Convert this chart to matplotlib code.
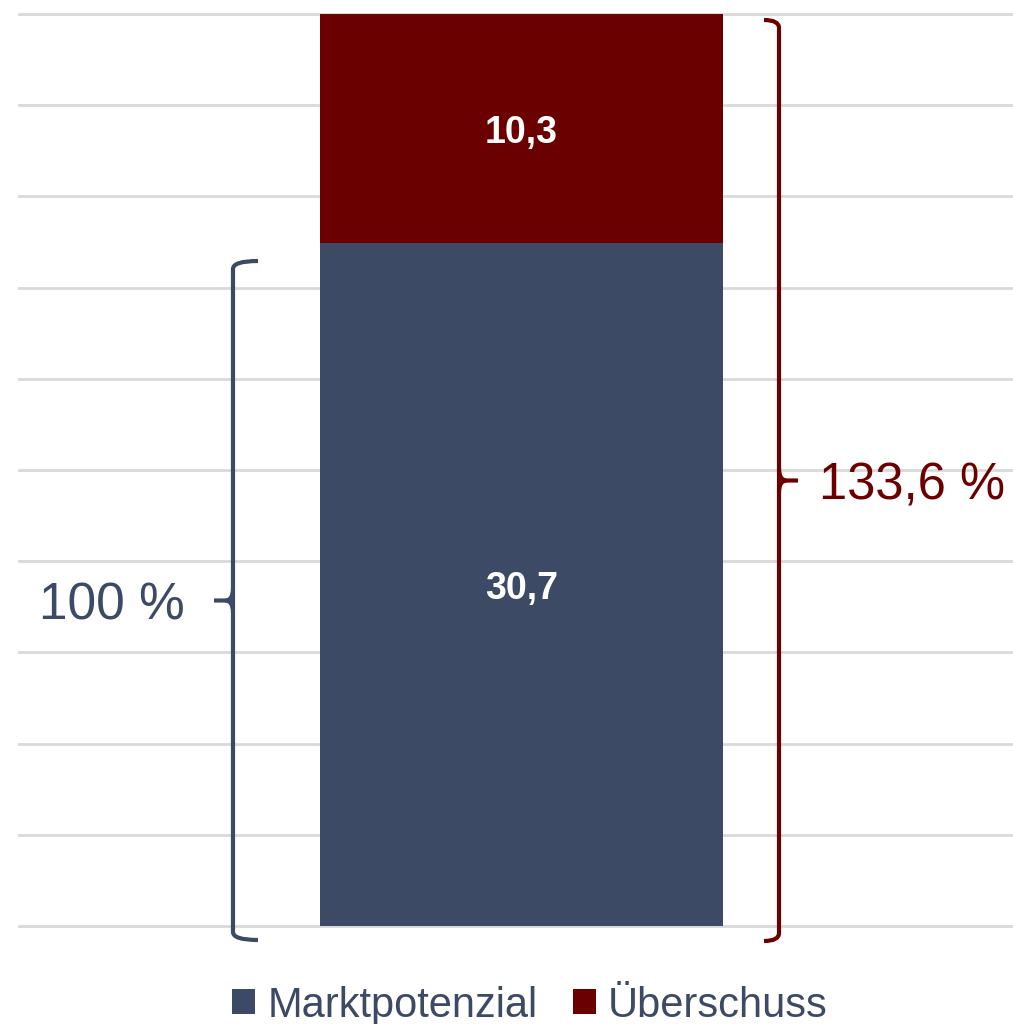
import numpy as np
import matplotlib
matplotlib.use("Agg")
import matplotlib.pyplot as plt
from matplotlib.patches import Patch, PathPatch
from matplotlib.path import Path

plt.rcParams['font.family'] = ['Liberation Sans', 'DejaVu Sans']

# data
series = ["Marktpotenzial", "Überschuss"]
values = [30.7, 10.3]
value_labels = ["30,7", "10,3"]
colors = ["#3D4A66", "#6B0000"]
brace_labels = ["100 %", "133,6 %"]

fig = plt.figure(figsize=(10.13, 10.24), dpi=100)
ax = fig.add_axes([19 / 1013, 98 / 1024, 994 / 1013, 912 / 1024])

bottom = 0
for name, v, lab, c in zip(series, values, value_labels, colors):
    ax.bar(0, v, width=0.8, bottom=bottom, color=c, label=name, zorder=3)
    ax.text(0, bottom + v / 2, lab, ha='center', va='center_baseline', color='white',
            fontsize=27, fontweight='bold', zorder=4)
    bottom += v
total = bottom

ax.set_xlim(-0.9975, 0.9757)
ax.set_ylim(0, total)
ax.set_yticks(np.linspace(0, total, 11))
ax.yaxis.grid(True, color='#D9D9D9', linewidth=2)
for gl in ax.get_ygridlines():
    gl.set_clip_on(False)
ax.set_axisbelow(True)
ax.tick_params(left=False, bottom=False, labelleft=False, labelbottom=False)
for s in ax.spines.values():
    s.set_visible(False)

# px -> data helpers for brace geometry
xu = 1 / 503.75   # data units per pixel, x
yu = total / 912  # data units per pixel, y


def brace(x, y0, y1, direction, color, arm_px):
    # direction: -1 tip points left, +1 tip points right
    ym = (y0 + y1) / 2
    arm = -direction * arm_px * xu
    tip = direction * 19 * xu
    rx, ry = 8 * xu, 8 * yu
    body = [(x + arm, y1), (x, y1), (x, y1 - ry),
            (x, y0 + ry), (x, y0), (x + arm, y0)]
    codes = [Path.MOVETO, Path.CURVE3, Path.CURVE3,
             Path.LINETO, Path.CURVE3, Path.CURVE3]
    ax.add_patch(PathPatch(Path(body, codes), fill=False, edgecolor=color,
                           linewidth=3, clip_on=False, zorder=5, capstyle='butt'))
    stub = [(x, ym + 1.5 * ry), (x, ym), (x + tip * 0.4, ym), (x + tip, ym)]
    scodes = [Path.MOVETO, Path.CURVE3, Path.CURVE3, Path.LINETO]
    ax.add_patch(PathPatch(Path(stub, scodes), fill=False, edgecolor=color,
                           linewidth=3, clip_on=False, zorder=5, capstyle='butt'))
    stub2 = [(x, ym - 1.5 * ry), (x, ym), (x + tip * 0.4, ym)]
    ax.add_patch(PathPatch(Path(stub2, [Path.MOVETO, Path.CURVE3, Path.CURVE3]),
                           fill=False, edgecolor=color, linewidth=3,
                           clip_on=False, zorder=5, capstyle='butt'))
    return ym


yl = brace(-0.5727, -14 * yu, (926 - 261) * yu, -1, colors[0], 25)
yr = brace(0.5112, -15 * yu, (926 - 20) * yu, 1, colors[1], 15)

ax.text(-0.5727 - 48 * xu, yl, brace_labels[0], ha='right', va='center_baseline',
        color=colors[0], fontsize=37)
ax.text(0.5112 + 40 * xu, yr, brace_labels[1], ha='left', va='center_baseline',
        color=colors[1], fontsize=36.5)

handles = [Patch(facecolor=c, edgecolor='none') for c in colors]
leg = fig.legend(handles, series, loc='center', bbox_to_anchor=(0.523, 0.018),
                 ncol=2, frameon=False, fontsize=30, handlelength=0.55,
                 handleheight=0.55, handletextpad=0.3, columnspacing=0.85,
                 borderaxespad=0, borderpad=0)
for t in leg.get_texts():
    t.set_color(colors[0])

fig.savefig("out.png", dpi=100)
